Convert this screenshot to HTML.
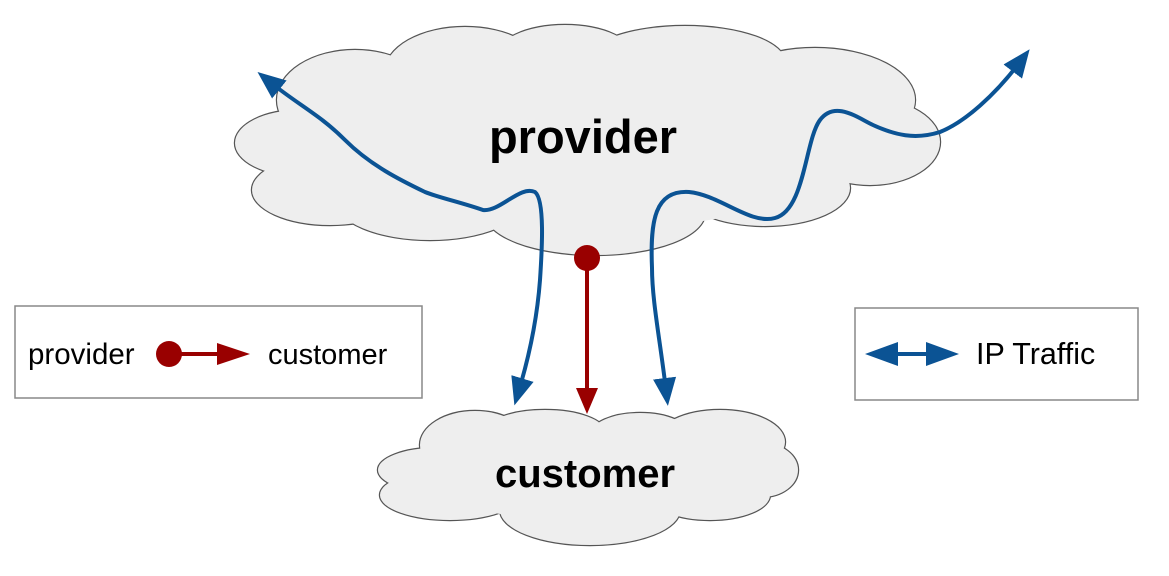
<!DOCTYPE html>
<html><head><meta charset="utf-8"><style>
html,body{margin:0;padding:0;background:#fff;}
svg{display:block;}
text{font-family:"Liberation Sans",Arial,sans-serif;}
</style></head><body>
<svg width="1169" height="576" viewBox="0 0 1169 576" xmlns="http://www.w3.org/2000/svg">
<defs>
<marker id="ab" markerWidth="7" markerHeight="7" refX="3" refY="3.5" orient="auto-start-reverse" markerUnits="strokeWidth"><path d="M0,0.6 L7,3.5 L0,6.4 Z" fill="#0b5394"/></marker>
</defs>
<g stroke="#555" stroke-width="2.4" fill="#eeeeee">
<ellipse cx="300" cy="143" rx="65" ry="33"/>
<ellipse cx="330" cy="190" rx="78" ry="35"/>
<ellipse cx="355" cy="100" rx="78" ry="50"/>
<ellipse cx="465" cy="72" rx="80" ry="45"/>
<ellipse cx="565" cy="58" rx="70" ry="33"/>
<ellipse cx="685" cy="62" rx="100" ry="36"/>
<ellipse cx="815" cy="100" rx="100" ry="52"/>
<ellipse cx="870" cy="142" rx="70" ry="43"/>
<ellipse cx="765" cy="188" rx="85" ry="38"/>
<ellipse cx="595" cy="213" rx="110" ry="42"/>
<ellipse cx="430" cy="200" rx="95" ry="40"/>
</g>
<g fill="#eeeeee">
<ellipse cx="300" cy="143" rx="65" ry="33"/>
<ellipse cx="330" cy="190" rx="78" ry="35"/>
<ellipse cx="355" cy="100" rx="78" ry="50"/>
<ellipse cx="465" cy="72" rx="80" ry="45"/>
<ellipse cx="565" cy="58" rx="70" ry="33"/>
<ellipse cx="685" cy="62" rx="100" ry="36"/>
<ellipse cx="815" cy="100" rx="100" ry="52"/>
<ellipse cx="870" cy="142" rx="70" ry="43"/>
<ellipse cx="765" cy="188" rx="85" ry="38"/>
<ellipse cx="595" cy="213" rx="110" ry="42"/>
<ellipse cx="430" cy="200" rx="95" ry="40"/>
<ellipse cx="590" cy="140" rx="260" ry="90"/>
</g>
<g stroke="#555" stroke-width="2.4" fill="#eeeeee">
<ellipse cx="435" cy="470" rx="57" ry="22"/>
<ellipse cx="450" cy="495" rx="70" ry="25"/>
<ellipse cx="475" cy="445" rx="55" ry="34"/>
<ellipse cx="545" cy="432" rx="60" ry="22"/>
<ellipse cx="640" cy="435" rx="50" ry="22"/>
<ellipse cx="720" cy="442" rx="65" ry="32"/>
<ellipse cx="762" cy="470" rx="36" ry="27"/>
<ellipse cx="710" cy="495" rx="60" ry="25"/>
<ellipse cx="590" cy="510" rx="90" ry="35"/>
</g>
<g fill="#eeeeee">
<ellipse cx="435" cy="470" rx="57" ry="22"/>
<ellipse cx="450" cy="495" rx="70" ry="25"/>
<ellipse cx="475" cy="445" rx="55" ry="34"/>
<ellipse cx="545" cy="432" rx="60" ry="22"/>
<ellipse cx="640" cy="435" rx="50" ry="22"/>
<ellipse cx="720" cy="442" rx="65" ry="32"/>
<ellipse cx="762" cy="470" rx="36" ry="27"/>
<ellipse cx="710" cy="495" rx="60" ry="25"/>
<ellipse cx="590" cy="510" rx="90" ry="35"/>
<ellipse cx="590" cy="475" rx="180" ry="45"/>
</g>
<text x="583" y="153" font-size="47" font-weight="bold" text-anchor="middle">provider</text>
<text x="585" y="487" font-size="40" font-weight="bold" text-anchor="middle">customer</text>
<g fill="none" stroke="#0b5394" stroke-width="4" stroke-linecap="round">
<path d="M270,82 C300,106 320,115 345,140 C370,165 400,180 425,192 C440,198 460,202 483,210 C500,212 520,185 535,192 C545,200 542,250 540,280 C537,320 528,360 519,390" marker-start="url(#ab)" marker-end="url(#ab)"/>
<path d="M666,390 C660,340 652,300 652,268 C650,220 655,190 689,192 C720,195 750,225 775,218 C805,210 805,140 820,120 C835,100 858,118 873,125 C895,135 915,140 940,132 C965,122 995,95 1020,62" marker-start="url(#ab)" marker-end="url(#ab)"/>
</g>
<line x1="587" y1="258" x2="587" y2="392" stroke="#990000" stroke-width="4"/>
<path d="M576,388 L598,388 L587,414 Z" fill="#990000"/>
<circle cx="587" cy="258" r="13" fill="#990000"/>
<rect x="15" y="306" width="407" height="92" fill="#fff" stroke="#888" stroke-width="1.5"/>
<text x="28" y="364" font-size="29.5">provider</text>
<circle cx="169" cy="354" r="13" fill="#990000"/>
<line x1="169" y1="354" x2="220" y2="354" stroke="#990000" stroke-width="4"/>
<path d="M217,343 L250,354 L217,365 Z" fill="#990000"/>
<text x="268" y="364" font-size="29">customer</text>
<rect x="855" y="308" width="283" height="92" fill="#fff" stroke="#888" stroke-width="1.5"/>
<line x1="890" y1="354" x2="935" y2="354" stroke="#0b5394" stroke-width="4"/>
<path d="M865,354 L898,342 L898,366 Z" fill="#0b5394"/>
<path d="M959,354 L926,342 L926,366 Z" fill="#0b5394"/>
<text x="976" y="364" font-size="30.5">IP Traffic</text>
</svg>
</body></html>
